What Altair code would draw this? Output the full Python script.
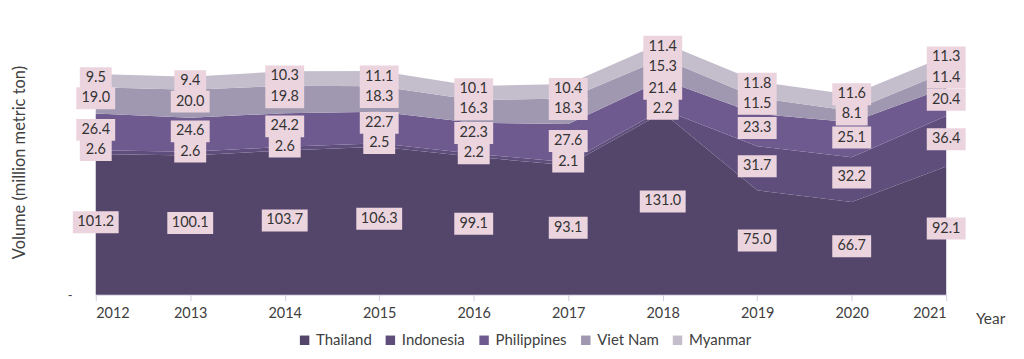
import altair as alt
import pandas as pd

years = [2012, 2013, 2014, 2015, 2016, 2017, 2018, 2019, 2020, 2021]
series = ["Thailand", "Indonesia", "Philippines", "Viet Nam", "Myanmar"]
thailand = [101.2, 100.1, 103.7, 106.3, 99.1, 93.1, 131.0, 75.0, 66.7, 92.1]
indonesia = [2.6, 2.6, 2.6, 2.5, 2.2, 2.1, 2.2, 31.7, 32.2, 36.4]
philippines = [26.4, 24.6, 24.2, 22.7, 22.3, 27.6, 21.4, 23.3, 25.1, 20.4]
viet_nam = [19.0, 20.0, 19.8, 18.3, 16.3, 18.3, 15.3, 11.5, 8.1, 11.4]
myanmar = [9.5, 9.4, 10.3, 11.1, 10.1, 10.4, 11.4, 11.8, 11.6, 11.3]
colors = ["#54466b", "#5f4e7c", "#6e5a8f", "#a098b0", "#c3bdcc"]

FONT = "Lato"
TXT = "#404040"

values = [thailand, indonesia, philippines, viet_nam, myanmar]
rows = []
for si, (name, vals) in enumerate(zip(series, values)):
    for y, v in zip(years, vals):
        rows.append({"year": y, "series": name, "idx": si, "value": v})
df = pd.DataFrame(rows)

# label positions: middle of each band, pushed up to avoid overlaps
GAP = 14.5
lab_rows = []
for yi, y in enumerate(years):
    cum = 0.0
    prev = None
    for si, vals in enumerate(values):
        v = vals[yi]
        mid = cum + v / 2 + 1.5
        if prev is not None and mid < prev + GAP:
            mid = prev + GAP
        prev = mid
        cum += v
        txt = f"{v:.1f}"
        lab_rows.append({"year": y, "ypos": mid, "label": txt, "n": len(txt)})
labs = pd.DataFrame(lab_rows)

xscale = alt.Scale(domain=[2012, 2021], nice=False, zero=False)
yscale = alt.Scale(domain=[0, 190], nice=False)
xaxis = alt.Axis(values=years, format="d", grid=False, domainColor="#d4cde0",
                 tickColor="#d4cde0", tickSize=6, labelFontSize=14.5, labelColor=TXT,
                 labelFont=FONT, labelPadding=6, title="Year", titleFont=FONT,
                 titleFontSize=15.5, titleFontWeight="normal", titleColor=TXT,
                 titleX=897, titleY=24, titleAlign="center", titleBaseline="middle")
yaxis = alt.Axis(values=[0], labelExpr="'-'", grid=False, domain=False, ticks=False,
                 labelFontSize=13, labelColor=TXT, labelPadding=24,
                 title="Volume (million metric ton)", titleFont=FONT, titleFontSize=16.5,
                 titleFontWeight="normal", titleColor=TXT, titleX=-76, titleY=132,
                 titleAngle=270, titleAlign="center", titleBaseline="middle")

area = alt.Chart(df).mark_area(opacity=1).encode(
    x=alt.X("year:Q", scale=xscale, axis=xaxis),
    y=alt.Y("value:Q", stack="zero", scale=yscale, axis=yaxis),
    color=alt.Color("series:N", scale=alt.Scale(domain=series, range=colors),
                    legend=alt.Legend(orient="none", legendX=202, legendY=303,
                                      direction="horizontal", title=None,
                                      symbolType="square", symbolSize=90,
                                      symbolStrokeWidth=0, labelFontSize=15,
                                      labelFont=FONT, labelColor=TXT, labelOffset=4,
                                      columnPadding=11)),
    order=alt.Order("idx:Q", sort="ascending"),
)

layers = [area]
widths = {3: 32, 4: 39, 5: 46}
for n, w in widths.items():
    box = alt.Chart(labs).transform_filter(alt.datum.n == n).mark_rect(
        width=w, height=22, color="#ecd4df"
    ).encode(
        x=alt.X("year:Q", scale=xscale, axis=xaxis),
        y=alt.Y("ypos:Q", scale=yscale, axis=yaxis),
    )
    layers.append(box)

text = alt.Chart(labs).mark_text(font=FONT, fontSize=14.5, color="#333333",
                                 baseline="middle", align="center").encode(
    x=alt.X("year:Q", scale=xscale, axis=xaxis),
    y=alt.Y("ypos:Q", scale=yscale, axis=yaxis),
    text="label:N",
)
layers.append(text)

chart = alt.layer(*layers).properties(
    width=853, height=265,
    autosize=alt.AutoSizeParams(type="none"),
    padding={"left": 88, "top": 22, "right": 70, "bottom": 56},
).configure_view(stroke=None)

chart.save("out.html", embed_options={"renderer": "svg", "actions": False})
